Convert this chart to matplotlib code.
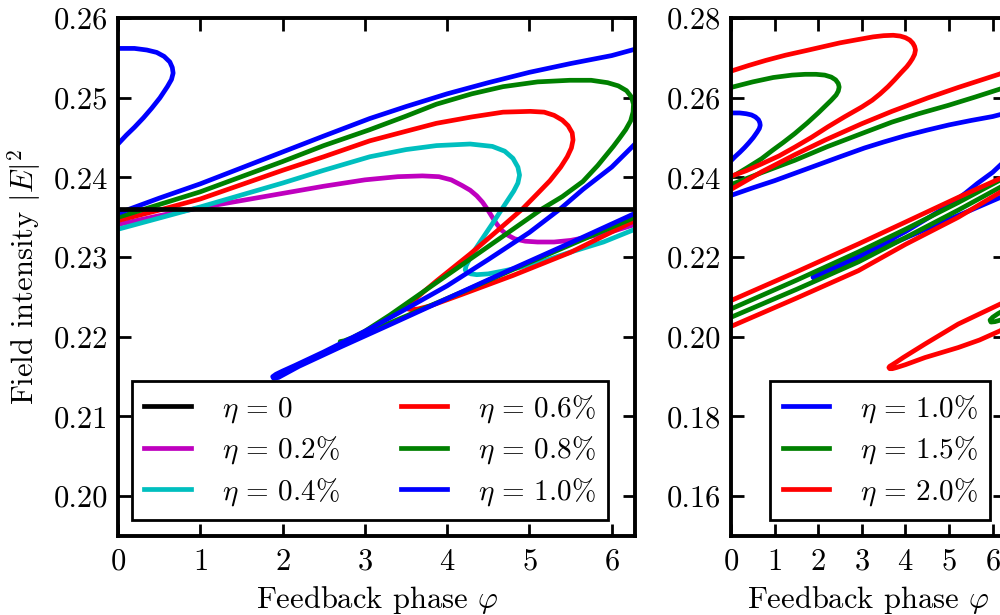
import numpy as np
import matplotlib
matplotlib.use("Agg")
import matplotlib.pyplot as plt
from matplotlib.ticker import MultipleLocator, FormatStrFormatter

plt.rcParams['font.family'] = 'serif'
plt.rcParams['font.serif'] = ['cmr10']
plt.rcParams['mathtext.fontset'] = 'cm'
plt.rcParams['axes.formatter.use_mathtext'] = True
plt.rcParams['font.size'] = 22

nan = np.nan
TWO_PI = 2 * np.pi

# ---- left panel: eta = 0 ... 1.0 % ----
phi_eta0 = [0.0, 6.283]
I_eta0 = [0.2361, 0.2361]

phi_eta02 = [0.0, 0.5, 1.0, 1.5, 2.0, 2.5, 3.0, 3.4, 3.7, 3.9, 4.05, 4.18, 4.28, 4.36,
             4.43, 4.49, 4.55, 4.60, 4.66, 4.73, 4.82, 4.95, 5.1, 5.3, 5.5, 5.7, 6.0, 6.283]
I_eta02 = [0.2341, 0.2352, 0.2362, 0.2371, 0.2380, 0.2389, 0.2397, 0.2401, 0.2402, 0.2401,
           0.2397, 0.2390, 0.2384, 0.2377, 0.2369, 0.2360, 0.2350, 0.2342, 0.2334, 0.2328,
           0.2323, 0.2320, 0.2319, 0.2319, 0.2321, 0.2325, 0.2332, 0.2341]

phi_eta04 = [0.0, 0.5, 1.0, 1.5, 2.0, 2.5, 3.06, 3.5, 3.87, 4.28, 4.55, 4.70, 4.80, 4.86,
             4.88, 4.86, 4.81, 4.74, 4.67, 4.55, 4.42, 4.33, 4.27, 4.23, 4.22, 4.24, 4.29,
             4.36, 4.5, 4.7, 4.88, 5.2, 5.49, 5.9, 6.283]
I_eta04 = [0.2335, 0.2349, 0.2363, 0.2378, 0.2393, 0.2409, 0.2426, 0.2435, 0.2440, 0.2442,
           0.2439, 0.2433, 0.2424, 0.2413, 0.2403, 0.2393, 0.2383, 0.2372, 0.2361, 0.2342,
           0.2322, 0.2308, 0.2297, 0.2289, 0.2284, 0.2281, 0.2279, 0.2278, 0.2279, 0.2283,
           0.2287, 0.2296, 0.2306, 0.2319, 0.2335]

phi_eta06 = [0.0, 0.5, 1.0, 1.5, 2.0, 2.5, 3.06, 3.5, 3.87, 4.3, 4.68, 5.01, 5.18, 5.30,
             5.40, 5.47, 5.52, 5.53, 5.51, 5.46, 5.38, 5.25, 5.10, 4.92, 4.62, 4.28, 3.87,
             3.72, 3.62, 3.55, 3.51, 3.52, 3.57, 3.65, 3.8, 4.2, 4.8, 5.5, 6.283]
I_eta06 = [0.2346, 0.2359, 0.2373, 0.2391, 0.2409, 0.2426, 0.2446, 0.2458, 0.2468, 0.2476,
           0.2482, 0.2483, 0.2482, 0.2478, 0.2472, 0.2465, 0.2456, 0.2447, 0.2437, 0.2426,
           0.2413, 0.2396, 0.2380, 0.2361, 0.2334, 0.2304, 0.2270, 0.2257, 0.2248, 0.2242,
           0.2238, 0.2235, 0.2234, 0.2235, 0.2239, 0.2254, 0.2277, 0.2306, 0.2346]

phi_eta08 = [0.0, 0.5, 1.0, 1.5, 2.0, 2.5, 3.06, 3.5, 3.87, 4.3, 4.68, 5.1, 5.49, 5.75,
             5.95, 6.08, 6.18, 6.24, 6.265, 6.26, 6.23, 6.17, 6.10, 6.02, 5.83, 5.65, 5.40,
             5.16, 4.8, 4.3, 3.8, 3.3, 3.0, 2.85, 2.75, 2.70, 2.72, 2.8, 3.0, 3.5, 4.2, 4.9,
             5.6, 6.283]
I_eta08 = [0.2350, 0.2366, 0.2382, 0.2401, 0.2420, 0.2440, 0.2460, 0.2477, 0.2492, 0.2505,
           0.2514, 0.2520, 0.2522, 0.2522, 0.2519, 0.2515, 0.2509, 0.2501, 0.2492, 0.2482,
           0.2471, 0.2460, 0.2450, 0.2439, 0.2415, 0.2395, 0.2376, 0.2361, 0.2335, 0.2299,
           0.2263, 0.2227, 0.2207, 0.2199, 0.2195, 0.2194, 0.2192, 0.2193, 0.2204, 0.2226,
           0.2257, 0.2289, 0.2320, 0.2350]

# eta = 1.0 % wraps around the phase axis -> pieces split by nan
phi_eta10 = [0.0, 0.5, 1.0, 1.5, 2.0, 2.5, 3.06, 3.5, 4.0, 4.5, 5.0, 5.5, 6.0, 6.283, nan,
             0.0, 0.2, 0.35, 0.47, 0.56, 0.63, 0.66, 0.67, 0.65, 0.60, 0.51, 0.41, 0.31,
             0.2, 0.1, 0.0, nan,
             6.283, 6.0, 5.65, 5.38, 5.0, 4.5, 4.0, 3.5, 3.06, 2.5, 2.15, 2.0, 1.92, 1.88,
             1.89, 1.95, 2.2, 2.7, 3.3, 4.0, 4.7, 5.5, 6.283]
I_eta10 = [0.2355, 0.2374, 0.2392, 0.2412, 0.2432, 0.2452, 0.2474, 0.2489, 0.2505, 0.2519,
           0.2532, 0.2543, 0.2553, 0.2561, nan,
           0.2562, 0.2562, 0.2560, 0.2557, 0.2552, 0.2545, 0.2538, 0.2531, 0.2523, 0.2514,
           0.2500, 0.2487, 0.2475, 0.2463, 0.2453, 0.2442, nan,
           0.2442, 0.2413, 0.2385, 0.2361, 0.2331, 0.2297, 0.2264, 0.2235, 0.2210, 0.2181,
           0.2164, 0.2157, 0.2153, 0.2150, 0.2148, 0.2149, 0.2163, 0.2187, 0.2215, 0.2248,
           0.2281, 0.2318, 0.2355]

# ---- right panel: eta = 1.5 %, 2.0 % ----
phi_eta15 = [0.0, 0.5, 0.97, 1.4, 1.7, 1.95, 2.15, 2.3, 2.40, 2.46, 2.48, 2.46, 2.41, 2.30,
             2.15, 2.0, 1.75, 1.46, 1.2, 0.95, 0.70, 0.35, 0.0, nan,
             0.0, 1.5, 2.92, 4.0, 5.21, 6.283, nan,
             6.283, 6.12, 6.0, 5.94, 5.96, 6.05, 6.18, 6.283, nan,
             0.0, 1.5, 2.92, 4.0, 5.21, 6.283, nan,
             0.0, 0.7, 1.46, 2.2, 2.99, 3.69, 4.3, 4.98, 5.6, 6.283]
I_eta15 = [0.2626, 0.2640, 0.2651, 0.2657, 0.2659, 0.2659, 0.2657, 0.2652, 0.2645, 0.2636,
           0.2627, 0.2617, 0.2607, 0.2594, 0.2578, 0.2562, 0.2537, 0.2510, 0.2488, 0.2468,
           0.2447, 0.2423, 0.2400, nan,
           0.2070, 0.2142, 0.2213, 0.2270, 0.2337, 0.2400, nan,
           0.2068, 0.2058, 0.2049, 0.2042, 0.2037, 0.2038, 0.2042, 0.2047, nan,
           0.2049, 0.2119, 0.2188, 0.2249, 0.2318, 0.2382, nan,
           0.2382, 0.2412, 0.2443, 0.2477, 0.2510, 0.2539, 0.2560, 0.2581, 0.2602, 0.2626]

phi_eta20 = [0.0, 0.4, 0.8, 1.25, 1.74, 2.1, 2.5, 2.9, 3.26, 3.5, 3.72, 3.88, 4.0, 4.10,
             4.17, 4.21, 4.23, 4.21, 4.16, 4.10, 4.03, 3.90, 3.75, 3.60, 3.42, 3.24, 3.0,
             2.6, 2.22, 1.85, 1.46, 1.1, 0.70, 0.35, 0.0, nan,
             0.0, 1.5, 2.92, 4.0, 5.21, 6.283, nan,
             6.283, 6.17, 5.21, 4.45, 3.95, 3.80, 3.70, 3.64, 3.62, 3.64, 3.70, 3.80, 4.0,
             4.2, 4.45, 5.21, 5.7, 6.17, 6.283, nan,
             0.0, 1.5, 2.92, 4.0, 5.21, 6.283, nan,
             0.0, 0.7, 1.46, 2.16, 3.0, 3.69, 4.52, 5.21, 6.17, 6.283]
I_eta20 = [0.2667, 0.2681, 0.2694, 0.2707, 0.2719, 0.2728, 0.2738, 0.2746, 0.2753, 0.2756,
           0.2757, 0.2755, 0.2751, 0.2745, 0.2737, 0.2729, 0.2720, 0.2709, 0.2698, 0.2688,
           0.2678, 0.2663, 0.2645, 0.2628, 0.2610, 0.2594, 0.2577, 0.2552, 0.2527, 0.2501,
           0.2476, 0.2454, 0.2434, 0.2417, 0.2403, nan,
           0.2091, 0.2163, 0.2233, 0.2288, 0.2350, 0.2403, nan,
           0.2088, 0.2082, 0.2032, 0.1982, 0.1948, 0.1937, 0.1930, 0.1926, 0.1923, 0.1920,
           0.1920, 0.1923, 0.1930, 0.1938, 0.1948, 0.1973, 0.1992, 0.2015, 0.2022, nan,
           0.2026, 0.2097, 0.2166, 0.2232, 0.2300, 0.2370, nan,
           0.2370, 0.2414, 0.2457, 0.2494, 0.2535, 0.2566, 0.2600, 0.2626, 0.2660, 0.2667]

left_series = [
    (phi_eta02, I_eta02, '#bf00bf', r'$\eta\,=\,0.2\%$'),
    (phi_eta04, I_eta04, '#00bfbf', r'$\eta\,=\,0.4\%$'),
    (phi_eta06, I_eta06, '#ff0000', r'$\eta\,=\,0.6\%$'),
    (phi_eta08, I_eta08, '#008000', r'$\eta\,=\,0.8\%$'),
    (phi_eta10, I_eta10, '#0000ff', r'$\eta\,=\,1.0\%$'),
]
right_series = [
    (phi_eta10, I_eta10, '#0000ff', r'$\eta\,=\,1.0\%$'),
    (phi_eta15, I_eta15, '#008000', r'$\eta\,=\,1.5\%$'),
    (phi_eta20, I_eta20, '#ff0000', r'$\eta\,=\,2.0\%$'),
]

LW = 3.4

fig = plt.figure(figsize=(10, 6.15), dpi=100)
ax1 = fig.add_axes([0.118, 0.1285, 0.517, 0.842])
ax2 = fig.add_axes([0.731, 0.1285, 0.274, 0.842])


def style_axes(ax):
    for sp in ax.spines.values():
        sp.set_linewidth(2.8)
    ax.tick_params(direction='in', top=True, right=True, length=9, width=2, labelsize=22)
    ax.tick_params(axis='x', pad=9)
    ax.tick_params(axis='y', pad=7)
    ax.xaxis.set_major_locator(MultipleLocator(1))
    ax.set_xlim(0, TWO_PI)
    ax.set_xlabel(r'Feedback phase $\varphi$', fontsize=22, labelpad=6)


def add_legend(ax, **kw):
    leg = ax.legend(borderaxespad=0, fontsize=21, handlelength=1.6, handletextpad=1.05,
                    labelspacing=0.33, borderpad=0.42, fancybox=False, framealpha=1,
                    edgecolor='k', **kw)
    leg.get_frame().set_linewidth(2)
    return leg


# left
ax1.plot(phi_eta0, I_eta0, color='k', lw=LW, label=r'$\eta\,=\,0$', zorder=5)
for phi, inten, col, lab in left_series:
    ax1.plot(phi, inten, color=col, lw=LW, label=lab, solid_joinstyle='round')
style_axes(ax1)
ax1.set_ylim(0.195, 0.26)
ax1.yaxis.set_major_locator(MultipleLocator(0.01))
ax1.yaxis.set_major_formatter(FormatStrFormatter('%.2f'))
ax1.set_ylabel(r'Field intensity $|E|^2$', fontsize=22, labelpad=8)
add_legend(ax1, ncol=2, loc='lower left', bbox_to_anchor=(0.027, 0.031), columnspacing=2.1)

# right
for phi, inten, col, lab in right_series:
    ax2.plot(phi, inten, color=col, lw=LW, label=lab, solid_joinstyle='round')
style_axes(ax2)
ax2.set_ylim(0.15, 0.28)
ax2.yaxis.set_major_locator(MultipleLocator(0.02))
ax2.yaxis.set_major_formatter(FormatStrFormatter('%.2f'))
add_legend(ax2, loc='lower right', bbox_to_anchor=(0.945, 0.031))

fig.savefig('out.png', dpi=100)
